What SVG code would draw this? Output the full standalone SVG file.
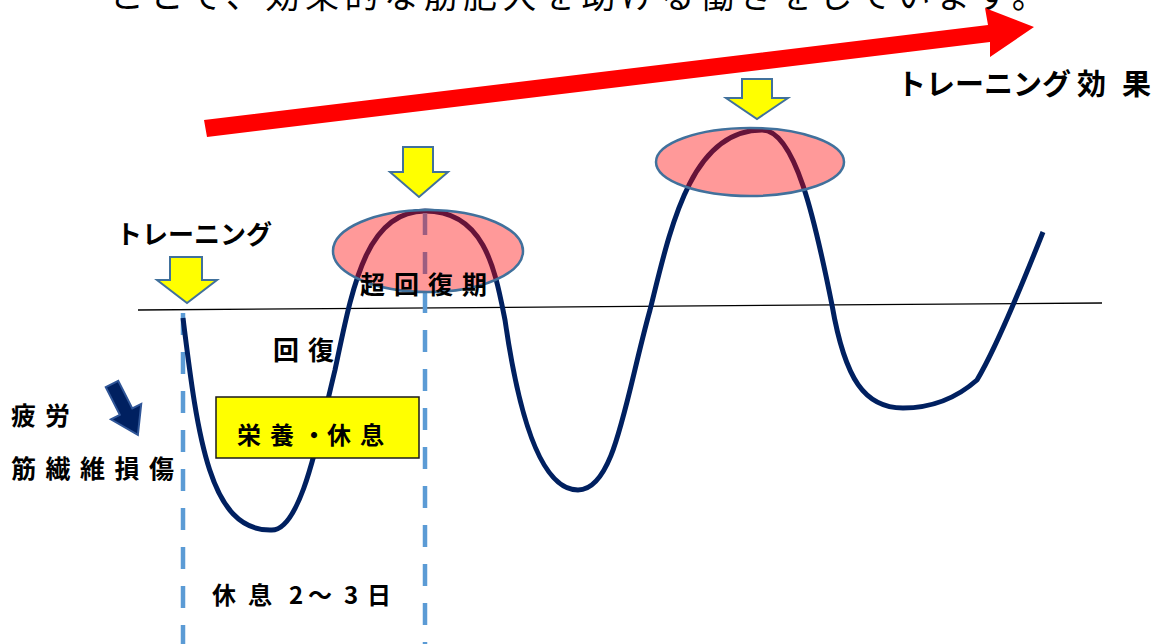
<svg xmlns="http://www.w3.org/2000/svg" width="1162" height="644" viewBox="0 0 1162 644">
<style>
.t{font-family:"Noto Sans CJK JP","Noto Sans CJK SC",sans-serif;font-weight:bold;fill:#000}
.title{font-family:"Noto Sans CJK JP","Noto Sans CJK SC",sans-serif;font-weight:normal;fill:#000}
.dash{stroke:#5B9BD5;stroke-width:4.5;stroke-dasharray:22 17;fill:none}
.yarrow{fill:#FFFF00;stroke:#41719C;stroke-width:2;stroke-linejoin:miter}
.bubble{fill:#FF0000;fill-opacity:0.4;stroke:#41719C;stroke-width:2.5}
.curve{fill:none;stroke:#002060;stroke-width:5;stroke-linecap:butt}
</style>
<rect width="1162" height="644" fill="#fff"/>

<g id="title">
<text class="title" x="110" y="8" font-size="34" letter-spacing="5.5">ことで、効果的な筋肥大を助ける働きをしています。</text>
</g>

<g id="effect-arrow">
<polygon points="204,120 988,25 985,8 1034,27 990,57 990,42 207,137" fill="#FF0000"/>
<text class="t" x="897" y="95" font-size="29">トレーニング<tspan x="1077">効</tspan><tspan x="1122">果</tspan></text>
</g>

<g id="connectors">
<line id="baseline" x1="138" y1="310" x2="1102" y2="303" stroke="#000" stroke-width="1.3"/>
<line id="dash-1" class="dash" x1="183" y1="313" x2="183" y2="644"/>
<path id="curve" class="curve" d="M183,318 C198,440 210,530 270,530 C300,534 318,440 335,370 C352,290 365,211 425,211 C485,211 495,270 505,320 C515,390 535,490 578,490 C615,490 625,400 650,310 C670,230 690,130 762,130 C795,130 815,220 832,305 C845,380 865,408 903,408 C935,408 960,395 977,380 C995,350 1020,290 1043,232"/>
<line id="dash-2" class="dash" x1="425" y1="213" x2="425" y2="644"/>
</g>

<g id="supercompensation-1">
<ellipse class="bubble" cx="428" cy="251" rx="95" ry="41"/>
<text class="t" x="360" y="294" font-size="25" letter-spacing="9">超回復期</text>
</g>

<g id="supercompensation-2">
<ellipse class="bubble" cx="750" cy="162" rx="94" ry="34"/>
</g>

<g id="arrow-training">
<polygon class="yarrow" points="170,257 202,257 202,280 217,280 187,303 157,280 170,280"/>
<text class="t" x="116" y="244" font-size="26">トレーニング</text>
</g>

<g id="arrow-peak-1">
<polygon class="yarrow" points="403,147 433,147 433,172 448,172 419,197 390,172 403,172"/>
</g>

<g id="arrow-peak-2">
<polygon class="yarrow" points="742,79 772,79 772,98 788,98 757,119 726,98 742,98"/>
</g>

<g id="recovery">
<text class="t" x="273" y="360" font-size="26" letter-spacing="9">回復</text>
</g>

<g id="fatigue">
<g transform="translate(112,384) rotate(-27)">
<polygon points="-7,0 7,0 7,31 17,31 0,57 -17,31 -7,31" fill="#002060" stroke="#2F5597" stroke-width="2"/>
</g>
<text class="t" x="11" y="425" font-size="25" letter-spacing="9">疲労</text>
<text class="t" x="11" y="478" font-size="25" letter-spacing="9.5">筋繊維損傷</text>
</g>

<g id="nutrition-box">
<rect x="216" y="397" width="203" height="61" fill="#FFFF00" stroke="#1a1a1a" stroke-width="1.5"/>
<text class="t" y="444" font-size="24"><tspan x="237">栄</tspan><tspan x="270">養</tspan><tspan x="302">・</tspan><tspan x="327">休</tspan><tspan x="360">息</tspan></text>
</g>

<g id="rest-label">
<text class="t" y="604" font-size="24"><tspan x="212">休</tspan><tspan x="248">息</tspan><tspan x="289">2</tspan><tspan x="308">〜</tspan><tspan x="344">3</tspan><tspan x="367">日</tspan></text>
</g>
</svg>
